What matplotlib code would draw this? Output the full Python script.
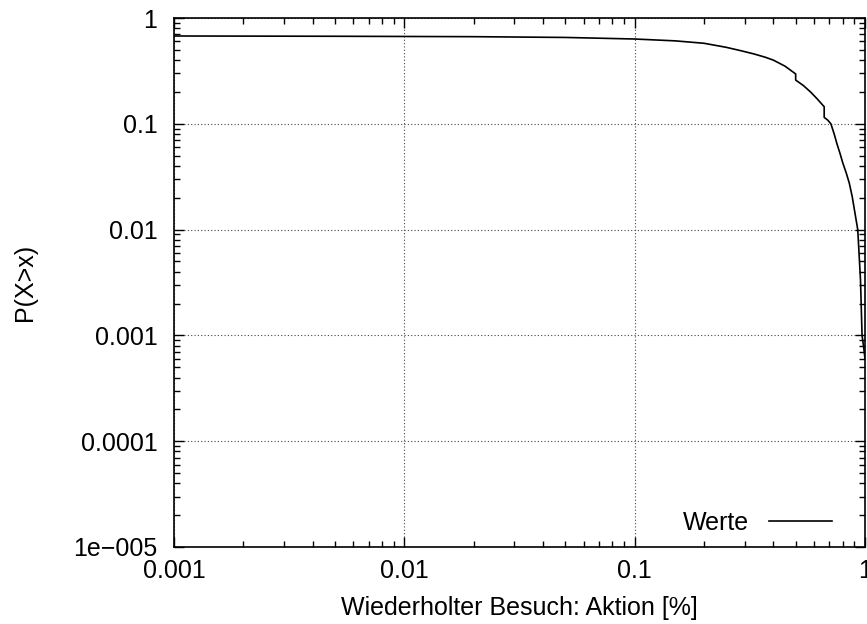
import matplotlib
matplotlib.use("Agg")
import matplotlib.pyplot as plt
from matplotlib.ticker import LogLocator, NullFormatter

plt.rcParams['font.family'] = ['Liberation Sans', 'DejaVu Sans']

x_vals = [0.001, 0.005, 0.02, 0.05, 0.1, 0.15, 0.2, 0.25, 0.29, 0.33, 0.37,
          0.4, 0.45, 0.5, 0.5, 0.54, 0.58, 0.62, 0.665, 0.665, 0.69, 0.711,
          0.735, 0.755, 0.78, 0.80, 0.83, 0.855, 0.88, 0.90, 0.93, 0.956,
          0.971, 0.985, 1.0]
y_vals = [0.676, 0.672, 0.666, 0.655, 0.633, 0.608, 0.577, 0.528, 0.49, 0.457,
          0.425, 0.40, 0.35, 0.296, 0.259, 0.23, 0.20, 0.172, 0.145, 0.115,
          0.108, 0.1, 0.08, 0.065, 0.052, 0.043, 0.034, 0.0274, 0.0205, 0.0153,
          0.01, 0.00334, 0.001, 0.0008, 0.0006]

xticks = [0.001, 0.01, 0.1, 1]
xtick_labels = ["0.001", "0.01", "0.1", "1"]
yticks = [1e-5, 1e-4, 1e-3, 1e-2, 1e-1, 1]
ytick_labels = ["1e\u2212005", "0.0001", "0.001", "0.01", "0.1", "1"]

fig = plt.figure(figsize=(8.67, 6.24), dpi=100)
ax = fig.add_axes([174/867, 1-547/624, (865-174)/867, (547-18)/624])

ax.plot(x_vals, y_vals, color='black', lw=1.2, label='Werte')
ax.set_xscale('log')
ax.set_yscale('log')
ax.set_xlim(0.001, 1)
ax.set_ylim(1e-5, 1)

ax.set_xticks(xticks)
ax.set_xticklabels(xtick_labels)
ax.set_yticks(yticks)
ax.set_yticklabels(ytick_labels)
ax.xaxis.set_minor_locator(LogLocator(base=10, subs=range(2, 10)))
ax.yaxis.set_minor_locator(LogLocator(base=10, subs=range(2, 10)))
ax.xaxis.set_minor_formatter(NullFormatter())
ax.yaxis.set_minor_formatter(NullFormatter())

ax.tick_params(which='both', direction='in', top=True, right=True, width=1, color='black')
ax.tick_params(which='major', length=7)
ax.tick_params(which='minor', length=4)
ax.tick_params(axis='x', which='major', labelsize=18, pad=9)
ax.tick_params(axis='y', which='major', labelsize=18, pad=12)

ax.grid(True, which='major', linestyle=(0, (1, 2)), color='#444444', lw=0.8)
for s in ax.spines.values():
    s.set_linewidth(1.2)

ax.set_xlabel("Wiederholter Besuch: Aktion [%]", fontsize=18, labelpad=9)
ax.set_ylabel("P(X>x)", fontsize=18, labelpad=26)

leg = ax.legend(loc='center right', frameon=False, fontsize=18, markerfirst=False,
                handlelength=2.5, borderpad=0, handletextpad=0.8,
                bbox_to_anchor=((844-174)/691, (547-523)/529))

fig.savefig("out.png", dpi=100)
